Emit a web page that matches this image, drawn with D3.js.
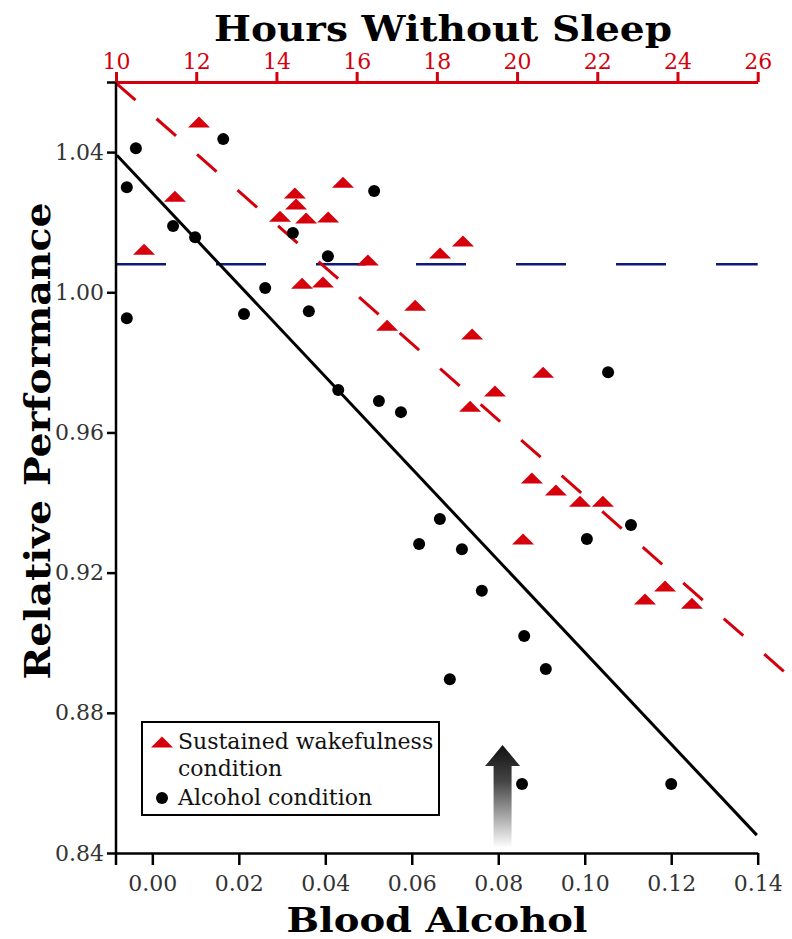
<!DOCTYPE html>
<html lang="en">
<head>
<meta charset="utf-8">
<script src="https://d3js.org/d3.v7.min.js"></script>
<style type="text/css">
body {
	margin: 0;
	background-color: #fff;
}
.tick text {
	font-family: "DejaVu Serif", serif;
	font-size: 22px;
}
.title {
	font-family: "DejaVu Serif", serif;
	font-weight: bold;
	font-size: 36px;
	fill: #000;
}
.legend text {
	font-family: "DejaVu Serif", serif;
	font-size: 22px;
	fill: #111;
}
</style>
</head>
<body>
<div class="chart"></div>
<script type="text/javascript">
// Sustained wakefulness condition: [hours without sleep, relative performance]
var wakeData = [
	[10.70, 1.0123], [11.47, 1.0274], [12.07, 1.0486], [14.09, 1.0217],
	[14.46, 1.0283], [14.49, 1.0252], [14.74, 1.0212], [15.29, 1.0215],
	[15.66, 1.0314], [14.64, 1.0026], [15.16, 1.0029], [16.28, 1.0092],
	[16.76, 0.9906], [17.46, 0.9963], [18.08, 1.0112], [18.65, 1.0146],
	[18.88, 0.9881], [18.83, 0.9675], [19.45, 0.9718], [20.65, 0.9772],
	[20.37, 0.9470], [20.97, 0.9436], [21.57, 0.9404], [22.14, 0.9404],
	[20.15, 0.9296], [23.69, 0.9162], [23.19, 0.9125], [24.36, 0.9113]
];

// Alcohol condition: [blood alcohol, relative performance]
var alcoholData = [
	[-0.0059, 1.0300], [-0.0038, 1.0411], [-0.0059, 0.9926], [0.0048, 1.0189],
	[0.0099, 1.0157], [0.0164, 1.0437], [0.0212, 0.9938], [0.0261, 1.0012],
	[0.0325, 1.0169], [0.0362, 0.9946], [0.0406, 1.0103], [0.0430, 0.9721],
	[0.0513, 1.0289], [0.0524, 0.9690], [0.0575, 0.9658], [0.0665, 0.9353],
	[0.0617, 0.9282], [0.0688, 0.8896], [0.0716, 0.9267], [0.0762, 0.9148],
	[0.0860, 0.9019], [0.0855, 0.8597], [0.0910, 0.8925], [0.1005, 0.9296],
	[0.1054, 0.9772], [0.1107, 0.9336], [0.1200, 0.8597]
];

// fitted lines, as end points
var wakeFit = [[10, 1.0597], [26.81, 0.8902]];
var alcoholFit = [[-0.0082, 1.0391], [0.1398, 0.8451]];
var baseline = 1.008;

// arrow at 0.08 blood alcohol
var arrowBac = 0.081;
var arrowFrom = 0.8415;
var arrowTo = 0.8708;

var bacTicks = [0.00, 0.02, 0.04, 0.06, 0.08, 0.10, 0.12, 0.14];
var hourTicks = [10, 12, 14, 16, 18, 20, 22, 24, 26];
var perfTicks = [0.84, 0.88, 0.92, 0.96, 1.00, 1.04];

var legendItems = [
	{type: "triangle", lines: ["Sustained wakefulness", "condition"]},
	{type: "circle", lines: ["Alcohol condition"]}
];

var width = 792, height = 939;
var red = "#d6000c", navy = "#0d1a7c";

var x = d3.scaleLinear().domain([-0.0084, 0.14]).range([116, 757.7]);
var hours = d3.scaleLinear().domain([10, 26]).range([116, 757.7]);
var y = d3.scaleLinear().domain([0.84, 1.06]).range([853, 82]);

var svg = d3.select(".chart")
	.append("svg")
	.attr("width", width)
	.attr("height", height);

var defs = svg.append("defs");
var grad = defs.append("linearGradient")
	.attr("id", "arrowGrad")
	.attr("x1", "0%").attr("y1", "0%")
	.attr("x2", "0%").attr("y2", "100%");
grad.append("stop").attr("offset", "0%").attr("stop-color", "#111");
grad.append("stop").attr("offset", "35%").attr("stop-color", "#444");
grad.append("stop").attr("offset", "100%").attr("stop-color", "#fff");

// blue baseline
svg.append("line")
	.attr("x1", x.range()[0]).attr("x2", x.range()[1])
	.attr("y1", y(baseline)).attr("y2", y(baseline))
	.style("stroke", navy)
	.style("stroke-width", 2.5)
	.style("stroke-dasharray", "50,50");

// arrow
var ax = x(arrowBac), aTop = y(arrowTo), aBot = y(arrowFrom);
var headH = 21, headW = 35, shaftW = 18;
svg.append("path")
	.attr("d", "M" + ax + "," + aTop +
		"L" + (ax + headW / 2) + "," + (aTop + headH) +
		"L" + (ax + shaftW / 2) + "," + (aTop + headH) +
		"L" + (ax + shaftW / 2) + "," + aBot +
		"L" + (ax - shaftW / 2) + "," + aBot +
		"L" + (ax - shaftW / 2) + "," + (aTop + headH) +
		"L" + (ax - headW / 2) + "," + (aTop + headH) + "Z")
	.style("fill", "url(#arrowGrad)");

// regression lines
var wakeLine = d3.line()
	.x(function(d) { return hours(d[0]); })
	.y(function(d) { return y(d[1]); });
var alcLine = d3.line()
	.x(function(d) { return x(d[0]); })
	.y(function(d) { return y(d[1]); });

svg.append("path")
	.attr("d", wakeLine(wakeFit))
	.style("fill", "none")
	.style("stroke", red)
	.style("stroke-width", 3)
	.style("stroke-dasharray", "26,28");

svg.append("path")
	.attr("d", alcLine(alcoholFit))
	.style("fill", "none")
	.style("stroke", "#000")
	.style("stroke-width", 3);

// markers
function triangle(w, h) {
	return "M0," + (-h / 2) + "L" + (w / 2) + "," + (h / 2) + "L" + (-w / 2) + "," + (h / 2) + "Z";
}

svg.append("g")
	.selectAll("path")
	.data(wakeData)
	.enter()
	.append("path")
	.attr("d", triangle(22, 11))
	.attr("transform", function(d) { return "translate(" + hours(d[0]) + "," + y(d[1]) + ")"; })
	.style("fill", red);

svg.append("g")
	.selectAll("circle")
	.data(alcoholData)
	.enter()
	.append("circle")
	.attr("cx", function(d) { return x(d[0]); })
	.attr("cy", function(d) { return y(d[1]); })
	.attr("r", 6)
	.style("fill", "#000");

// axes
var leftAxis = svg.append("g")
	.attr("transform", "translate(" + x.range()[0] + ",0)")
	.call(d3.axisLeft(y).tickValues(perfTicks.concat([1.06])).tickSize(9).tickPadding(3)
		.tickFormat(function(d) { return d > 1.05 ? "" : d3.format(".2f")(d); }));
leftAxis.select(".domain").remove();
leftAxis.append("line")
	.attr("y1", y(1.06)).attr("y2", 865)
	.style("stroke", "#000");
leftAxis.selectAll("line").style("stroke-width", 2.5);
leftAxis.selectAll("text").style("fill", "#333");

var bottomAxis = svg.append("g")
	.attr("transform", "translate(0," + y(0.84) + ")")
	.call(d3.axisBottom(x).tickValues(bacTicks).tickSize(12).tickSizeOuter(0).tickPadding(10)
		.tickFormat(d3.format(".2f")));
bottomAxis.selectAll("line, path").style("stroke-width", 2.5);
bottomAxis.selectAll("text").style("fill", "#333");

var topAxis = svg.append("g")
	.attr("transform", "translate(0," + y(1.06) + ")")
	.call(d3.axisTop(hours).tickValues(hourTicks).tickSize(10).tickSizeOuter(0).tickPadding(3));
topAxis.selectAll("line, path").style("stroke", red).style("stroke-width", 3);
topAxis.selectAll("text").style("fill", red);

// titles
svg.append("text")
	.attr("class", "title")
	.attr("x", 443).attr("y", 41)
	.attr("text-anchor", "middle")
	.attr("textLength", 458)
	.attr("lengthAdjust", "spacingAndGlyphs")
	.text("Hours  Without  Sleep");

svg.append("text")
	.attr("class", "title")
	.attr("x", 437).attr("y", 932)
	.attr("text-anchor", "middle")
	.attr("textLength", 301)
	.attr("lengthAdjust", "spacingAndGlyphs")
	.style("font-size", "33px")
	.text("Blood  Alcohol");

svg.append("text")
	.attr("class", "title")
	.attr("transform", "translate(50,441) rotate(-90)")
	.attr("text-anchor", "middle")
	.attr("textLength", 477)
	.attr("lengthAdjust", "spacingAndGlyphs")
	.text("Relative  Performance");

// legend
var legend = svg.append("g").attr("class", "legend");
legend.append("rect")
	.attr("x", 142).attr("y", 722)
	.attr("width", 297).attr("height", 93)
	.style("fill", "#fff")
	.style("stroke", "#000")
	.style("stroke-width", 2);

var rowY = [742, 798];
legendItems.forEach(function(item, i) {
	var g = legend.append("g").attr("transform", "translate(162," + rowY[i] + ")");
	if (item.type == "triangle") {
		g.append("path").attr("d", triangle(22, 11)).style("fill", red);
	} else {
		g.append("circle").attr("r", 6).style("fill", "#000");
	}
	item.lines.forEach(function(t, j) {
		g.append("text")
			.attr("x", 16)
			.attr("y", 7 + j * 27)
			.text(t);
	});
});
</script>
</body>
</html>
